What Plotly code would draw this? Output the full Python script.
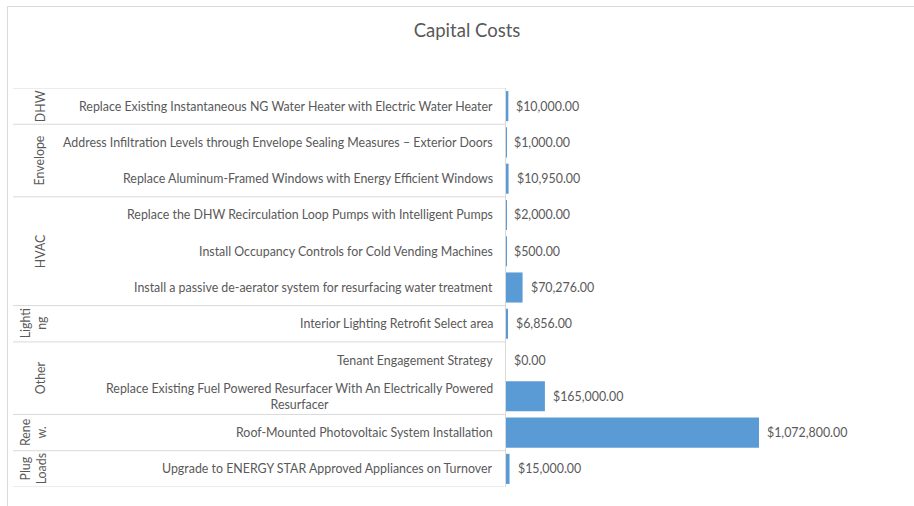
import plotly.graph_objects as go

# ---- data ----
group_labels = ["DHW", "Envelope", "HVAC", "Lighti\nng", "Other", "Rene\nw.", "Plug\nLoads"]
group_sizes = [1, 2, 3, 1, 2, 1, 1]
measures = [
    "Replace Existing Instantaneous NG Water Heater with Electric Water Heater",
    "Address Infiltration Levels through Envelope Sealing Measures \u2013 Exterior Doors",
    "Replace Aluminum-Framed Windows with Energy Efficient Windows",
    "Replace the DHW Recirculation Loop Pumps with Intelligent Pumps",
    "Install Occupancy Controls for Cold Vending Machines",
    "Install a passive de-aerator system for resurfacing water treatment",
    "Interior Lighting Retrofit Select area",
    "Tenant Engagement Strategy",
    "Replace Existing Fuel Powered Resurfacer With An Electrically Powered\nResurfacer",
    "Roof-Mounted Photovoltaic System Installation",
    "Upgrade to ENERGY STAR Approved Appliances on Turnover",
]
costs = [10000, 1000, 10950, 2000, 500, 70276, 6856, 0, 165000, 1072800, 15000]
title_text = "Capital Costs"

# ---- layout constants (pixels) ----
W, H = 914, 506
AX_X = 506          # category axis line
PLOT_TOP, PLOT_BOT = 88, 487
PLOT_RIGHT = 789
XMAX = 1200000
TXT = "#595959"
GRID = "#d9d9d9"
FONT = "Lato"
FS = 12.4
FS_VAL = 12.4

n = len(measures)
idx = list(range(n))

fig = go.Figure()
fig.add_trace(go.Bar(
    x=costs, y=idx, orientation="h",
    marker=dict(color="#5B9BD5", line=dict(width=0)),
    hoverinfo="skip",
))

annotations = []
# value labels
for i, v in zip(idx, costs):
    annotations.append(dict(
        x=v, y=i, xref="x", yref="y", text=f"${v:,.2f}",
        showarrow=False, xanchor="left", yanchor="middle", xshift=6,
        font=dict(family=FONT, size=FS_VAL, color=TXT),
    ))
# item labels
for i, m in zip(idx, measures):
    annotations.append(dict(
        x=494.5 / W, y=i, xref="paper", yref="y", text=m.replace("\n", "<br>"),
        showarrow=False, xanchor="right", yanchor="middle", align="center",
        font=dict(family=FONT, size=FS, color=TXT),
    ))

shapes = []
start = 0
bounds = [0]
for g, s in zip(group_labels, group_sizes):
    center = start + (s - 1) / 2
    lines = g.count("\n") + 1
    annotations.append(dict(
        x=(40 if lines == 1 else 33.5) / W, y=center, xref="paper", yref="y",
        text=g.replace("\n", "<br>"), textangle=-90,
        showarrow=False, xanchor="center", yanchor="middle", align="center",
        font=dict(family=FONT, size=FS, color=TXT),
    ))
    start += s
    bounds.append(start)

for b in bounds:
    shapes.append(dict(
        type="line", xref="paper", yref="y",
        x0=13 / W, x1=AX_X / W, y0=b - 0.5, y1=b - 0.5,
        line=dict(color=GRID, width=1),
    ))
# outer chart border
shapes.append(dict(
    type="rect", xref="paper", yref="paper",
    x0=7.5 / W, x1=1.02, y0=-0.02, y1=1 - 6.5 / H,
    line=dict(color=GRID, width=1), fillcolor="rgba(0,0,0,0)", layer="below",
))

fig.update_layout(
    width=W, height=H,
    margin=dict(l=0, r=0, t=0, b=0),
    paper_bgcolor="white", plot_bgcolor="white",
    showlegend=False,
    bargap=0.17,
    title=dict(
        text=title_text, x=467 / W, xanchor="center",
        y=1 - 31 / H, yanchor="middle", yref="container",
        font=dict(family=FONT, size=18.5, color=TXT),
    ),
    xaxis=dict(
        domain=[AX_X / W, PLOT_RIGHT / W], range=[0, XMAX],
        showgrid=False, zeroline=False, showticklabels=False, showline=False,
        fixedrange=True,
    ),
    yaxis=dict(
        domain=[1 - PLOT_BOT / H, 1 - PLOT_TOP / H],
        range=[n - 0.5, -0.5],
        showgrid=False, zeroline=False, showticklabels=False,
        showline=True, linecolor=GRID, linewidth=1,
        fixedrange=True,
    ),
    annotations=annotations,
    shapes=shapes,
)

fig.write_html(
    "out.html",
    config={"displayModeBar": False},
    post_script="document.body.style.margin='0';document.body.style.overflow='hidden';",
)
